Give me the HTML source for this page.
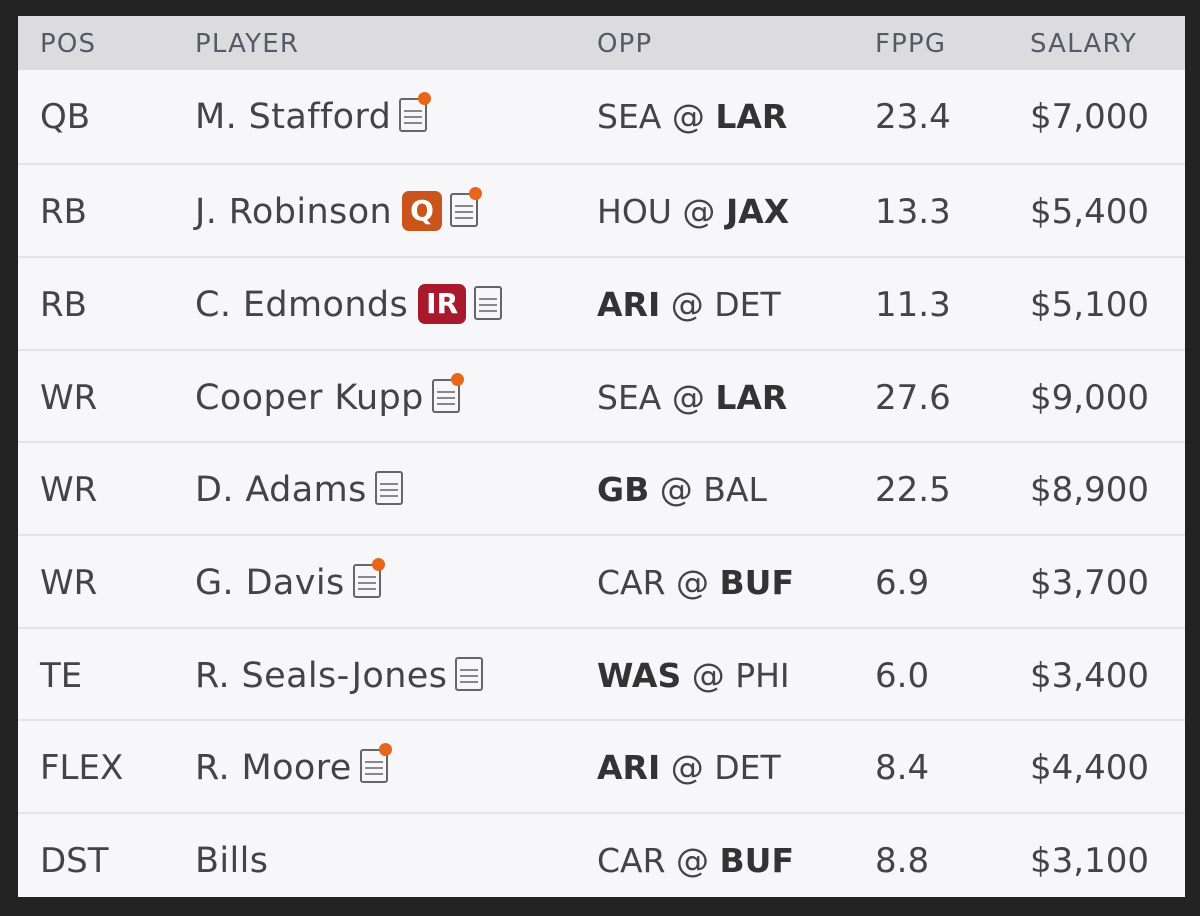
<!DOCTYPE html>
<html><head><style>
body{margin:0;width:1200px;height:916px;background:#232323;font-family:"DejaVu Sans","Liberation Sans",sans-serif;overflow:hidden}
#t{position:absolute;left:18px;top:16px;width:1167px;height:881px;background:#f7f7f9}
.h{position:absolute;left:0;top:0;width:1167px;height:54px;background:#dcdcde}
.h span{position:absolute;top:13px;font-size:26px;color:#555a66;letter-spacing:1.2px}
.r{position:absolute;left:0;width:1167px;height:93px;border-top:2px solid #e4e4e8;box-sizing:border-box}
.r span{position:absolute;top:25px;height:44px;line-height:44px;font-size:34px;color:#444;white-space:nowrap;letter-spacing:0}
.r span:nth-child(2){font-size:35px;letter-spacing:0.4px}
.r span:nth-child(3){font-size:33px}
b{color:#333}
i{font-style:normal}
.ic{display:inline-block;width:28px;height:34px;border:2px solid #666;box-sizing:border-box;border-radius:3px;vertical-align:-4px;margin-left:8px;position:relative;background:repeating-linear-gradient(#f7f7f9 0 4px,#888 4px 6px);background-clip:content-box;padding:8px 3px 3px}
.ic.d::after{content:"";position:absolute;right:-6px;top:-8px;width:13px;height:13px;border-radius:50%;background:#e8661c}
.bd{display:inline-block;color:#fff;font-weight:bold;font-size:28px;padding:0 8px;height:40px;line-height:40px;border-radius:7px;vertical-align:3px;margin-left:10px;letter-spacing:0}
</style></head><body>
<div id="t">
<div class="h"><span style="left:22px">POS</span><span style="left:177px">PLAYER</span><span style="left:579px">OPP</span><span style="left:857px">FPPG</span><span style="left:1012px">SALARY</span></div>
<div class="r" style="top:54px;border-top:none"><span style="left:22px">QB</span><span style="left:177px">M. Stafford<i class="ic d"></i></span><span style="left:579px">SEA @ <b>LAR</b></span><span style="left:857px">23.4</span><span style="left:1012px">$7,000</span></div>
<div class="r" style="top:147px"><span style="left:22px">RB</span><span style="left:177px">J. Robinson<i class="bd" style="background:#c9541c">Q</i><i class="ic d"></i></span><span style="left:579px">HOU @ <b>JAX</b></span><span style="left:857px">13.3</span><span style="left:1012px">$5,400</span></div>
<div class="r" style="top:240px"><span style="left:22px">RB</span><span style="left:177px">C. Edmonds<i class="bd" style="background:#a8192e">IR</i><i class="ic"></i></span><span style="left:579px"><b>ARI</b> @ DET</span><span style="left:857px">11.3</span><span style="left:1012px">$5,100</span></div>
<div class="r" style="top:333px"><span style="left:22px">WR</span><span style="left:177px">Cooper Kupp<i class="ic d"></i></span><span style="left:579px">SEA @ <b>LAR</b></span><span style="left:857px">27.6</span><span style="left:1012px">$9,000</span></div>
<div class="r" style="top:425px"><span style="left:22px">WR</span><span style="left:177px">D. Adams<i class="ic"></i></span><span style="left:579px"><b>GB</b> @ BAL</span><span style="left:857px">22.5</span><span style="left:1012px">$8,900</span></div>
<div class="r" style="top:518px"><span style="left:22px">WR</span><span style="left:177px">G. Davis<i class="ic d"></i></span><span style="left:579px">CAR @ <b>BUF</b></span><span style="left:857px">6.9</span><span style="left:1012px">$3,700</span></div>
<div class="r" style="top:611px"><span style="left:22px">TE</span><span style="left:177px">R. Seals-Jones<i class="ic"></i></span><span style="left:579px"><b>WAS</b> @ PHI</span><span style="left:857px">6.0</span><span style="left:1012px">$3,400</span></div>
<div class="r" style="top:703px"><span style="left:22px">FLEX</span><span style="left:177px">R. Moore<i class="ic d"></i></span><span style="left:579px"><b>ARI</b> @ DET</span><span style="left:857px">8.4</span><span style="left:1012px">$4,400</span></div>
<div class="r" style="top:796px"><span style="left:22px">DST</span><span style="left:177px">Bills</span><span style="left:579px">CAR @ <b>BUF</b></span><span style="left:857px">8.8</span><span style="left:1012px">$3,100</span></div>
</div>
</body></html>
